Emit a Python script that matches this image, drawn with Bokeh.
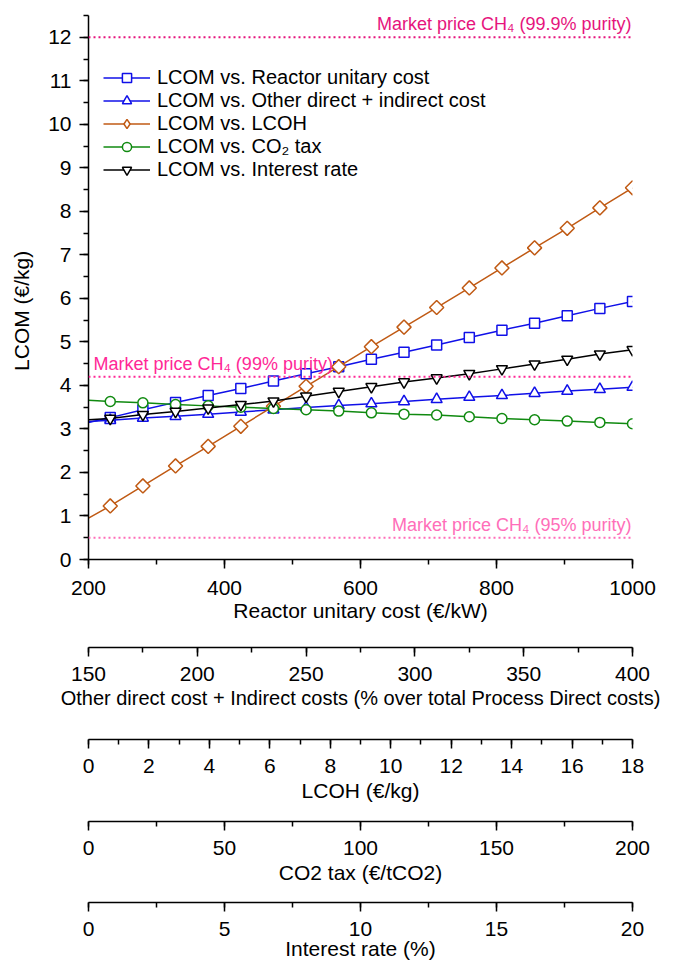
import numpy as np
from bokeh.plotting import figure
from bokeh.models import (Range1d, SingleIntervalTicker, Span, Label,
                          Legend, LegendItem)
from bokeh.layouts import column
from bokeh.embed import file_html
from bokeh.resources import INLINE

FONT = "Liberation Sans"

# --- Sensitivity of LCOM (€/kg) to each parameter, x in the parameter's own units ---
reactor_cost = [200, 232, 280, 328, 376, 424, 472, 520, 568, 616, 664, 712,
                760, 808, 856, 904, 952, 1000]
lcom_reactor = [3.15, 3.26, 3.44, 3.61, 3.77, 3.93, 4.10, 4.27, 4.43, 4.60,
                4.76, 4.93, 5.10, 5.27, 5.43, 5.60, 5.77, 5.93]

other_cost = [150, 160, 175, 190, 205, 220, 235, 250, 265, 280, 295, 310,
              325, 340, 355, 370, 385, 400]
lcom_other = [3.17, 3.20, 3.25, 3.29, 3.34, 3.39, 3.44, 3.49, 3.54, 3.58,
              3.63, 3.68, 3.73, 3.77, 3.82, 3.87, 3.91, 3.96]

lcoh = [0.0, 0.72, 1.80, 2.88, 3.96, 5.04, 6.12, 7.20, 8.28, 9.36, 10.44,
        11.52, 12.60, 13.68, 14.76, 15.84, 16.92, 18.0]
lcom_lcoh = [0.95, 1.23, 1.69, 2.15, 2.60, 3.06, 3.52, 3.98, 4.43, 4.89,
             5.34, 5.79, 6.24, 6.70, 7.16, 7.61, 8.08, 8.54]

co2_tax = [0, 8, 20, 32, 44, 56, 68, 80, 92, 104, 116, 128, 140, 152, 164,
           176, 188, 200]
lcom_co2 = [3.66, 3.63, 3.60, 3.56, 3.53, 3.50, 3.47, 3.44, 3.41, 3.37,
            3.34, 3.32, 3.28, 3.24, 3.21, 3.18, 3.15, 3.12]

interest_rate = [0.0, 0.8, 2.0, 3.2, 4.4, 5.6, 6.8, 8.0, 9.2, 10.4, 11.6,
                 12.8, 14.0, 15.2, 16.4, 17.6, 18.8, 20.0]
lcom_rate = [3.21, 3.24, 3.33, 3.40, 3.48, 3.56, 3.64, 3.75, 3.86, 3.97,
             4.08, 4.17, 4.27, 4.38, 4.49, 4.60, 4.72, 4.82]

# Market reference prices of CH4 (€/kg)
market_prices = [12.0, 4.2, 0.5]
market_labels = ["Market price CH\u2084 (99.9% purity)",
                 "Market price CH\u2084 (99% purity)",
                 "Market price CH\u2084 (95% purity)"]

# Axis extents
reactor_range = (200, 1000)
other_range = (150, 400)
lcoh_range = (0, 18)
co2_range = (0, 200)
rate_range = (0, 20)
lcom_range = (0, 12.5)

BLUE = "#1010E8"
ORANGE = "#C05A14"
GREEN = "#108A10"
BLACK = "#000000"
market_colors = ["#E6147D", "#FF2896", "#FF6EB9"]

W = 673
LEFT = 88
RIGHT = 41
TICK_FONT = "21px"

r_reactor = Range1d(*reactor_range)
r_other = Range1d(*other_range)
r_lcoh = Range1d(*lcoh_range)
r_co2 = Range1d(*co2_range)
r_rate = Range1d(*rate_range)


def style_axis(ax, interval, label, tick_standoff=10, label_standoff=3,
               label_size=TICK_FONT):
    ax.ticker = SingleIntervalTicker(interval=interval, num_minor_ticks=2)
    ax.axis_label = label
    ax.axis_label_text_font = FONT
    ax.axis_label_text_font_size = label_size
    ax.axis_label_text_font_style = "normal"
    ax.axis_label_text_color = "black"
    ax.axis_label_standoff = label_standoff
    ax.major_label_text_font = FONT
    ax.major_label_text_font_size = TICK_FONT
    ax.major_label_text_color = "black"
    ax.major_label_standoff = tick_standoff
    ax.axis_line_color = "black"
    ax.axis_line_width = 1.5
    ax.major_tick_line_color = "black"
    ax.minor_tick_line_color = "black"
    ax.major_tick_line_width = 1.5
    ax.minor_tick_line_width = 1.5
    ax.major_tick_in = 0
    ax.major_tick_out = 9
    ax.minor_tick_in = 0
    ax.minor_tick_out = 5


# --- Main plot ---
p = figure(width=W, height=629, x_range=r_reactor,
           y_range=Range1d(*lcom_range),
           min_border_left=LEFT, min_border_right=RIGHT,
           min_border_top=15, min_border_bottom=70,
           toolbar_location=None, output_backend="svg",
           outline_line_color=None, background_fill_color="white",
           border_fill_color="white")
p.extra_x_ranges = {"other": r_other, "lcoh": r_lcoh, "co2": r_co2,
                    "rate": r_rate}
p.xgrid.visible = False
p.ygrid.visible = False

style_axis(p.xaxis[0], 200, "Reactor unitary cost (\u20ac/kW)",
           tick_standoff=12, label_standoff=1)
# trailing no-break spaces sit the rotated title a little below the frame centre
style_axis(p.yaxis[0], 1, "LCOM (\u20ac/kg)" + "\u00a0" * 8, tick_standoff=8,
           label_standoff=12)

# market price reference lines
for price, color in zip(market_prices, market_colors):
    p.add_layout(Span(location=price, dimension="width", line_color=color,
                      line_dash="2 3", line_width=2))

label_pos = [(reactor_range[1], "right", -1), (reactor_range[0], "left", 5),
             (reactor_range[1], "right", -1)]
for price, text, color, (lx, align, xo) in zip(market_prices, market_labels,
                                                market_colors, label_pos):
    p.add_layout(Label(x=lx, y=price, text=text, text_align=align,
                       text_baseline="bottom", x_offset=xo, y_offset=3,
                       text_color=color, text_font=FONT,
                       text_font_size="18px"))

series = [
    ("LCOM vs. Reactor unitary cost", reactor_cost, lcom_reactor, "default",
     BLUE, "square", 0.0, 10),
    ("LCOM vs. Other direct + indirect cost", other_cost, lcom_other, "other",
     BLUE, "triangle", 0.0, 11),
    ("LCOM vs. LCOH", lcoh, lcom_lcoh, "lcoh", ORANGE, "square", np.pi / 4, 10),
    ("LCOM vs. CO\u2082 tax", co2_tax, lcom_co2, "co2", GREEN, "circle", 0.0, 10),
    ("LCOM vs. Interest rate", interest_rate, lcom_rate, "rate", BLACK,
     "inverted_triangle", 0.0, 11),
]

items = []
for name, xs, ys, rng, color, marker, angle, size in series:
    ln = p.line(xs, ys, x_range_name=rng, line_color=color, line_width=1.5)
    sc = p.scatter(xs[1:], ys[1:], x_range_name=rng, marker=marker,
                   angle=angle, size=size, line_color=color, line_width=1.5,
                   fill_color="white")
    key = sc
    if angle:
        # legend swatches are drawn unrotated, so use a diamond key instead
        key = p.scatter(xs[1:], ys[1:], x_range_name=rng, marker="diamond",
                        size=size, line_color=color, line_width=1.5,
                        fill_color="white", visible=False)
    items.append(LegendItem(label=name, renderers=[ln, key]))

legend = Legend(items=items, location=(15, 378), padding=0, margin=0,
                spacing=0, glyph_width=47, glyph_height=23, label_height=23,
                label_standoff=7, label_text_font=FONT,
                label_text_font_size="20px", label_text_color="black",
                background_fill_alpha=0, border_line_alpha=0)
p.add_layout(legend)


# --- Secondary parameter scales below the plot ---
def scale_bar(rng, interval, label, height, bottom, tick_standoff=10,
              label_standoff=3, label_size=TICK_FONT):
    f = figure(width=W, height=height, x_range=rng, y_range=Range1d(0, 1),
               min_border_left=LEFT, min_border_right=RIGHT,
               min_border_top=0, min_border_bottom=bottom,
               y_axis_location=None, toolbar_location=None,
               output_backend="svg", outline_line_color=None,
               border_fill_color="white")
    f.xgrid.visible = False
    f.ygrid.visible = False
    style_axis(f.xaxis[0], interval, label, tick_standoff, label_standoff,
               label_size)
    return f


p2 = scale_bar(r_other, 50,
               "Other direct cost + Indirect costs (% over total Process Direct costs)",
               92, 74, label_size="20px")
p3 = scale_bar(r_lcoh, 2, "LCOH (\u20ac/kg)", 84, 66)
p4 = scale_bar(r_co2, 50, "CO2 tax (\u20ac/tCO2)", 82, 66)
p5 = scale_bar(r_rate, 5, "Interest rate (%)", 75, 59, tick_standoff=10,
               label_standoff=-2)

layout = column(p, p2, p3, p4, p5, spacing=0)

with open("out.html", "w") as fh:
    fh.write(file_html(layout, INLINE))
